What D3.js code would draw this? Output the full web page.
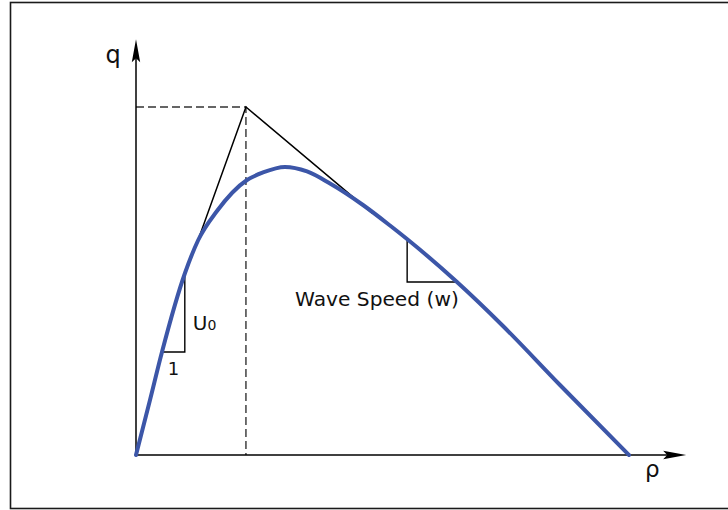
<!DOCTYPE html>
<html>
<head>
<meta charset="utf-8">
<script src="https://cdn.jsdelivr.net/npm/d3@7"></script>
<style>
  html, body { margin: 0; padding: 0; background: #fff; }
  svg { display: block; }
  text { font-family: "DejaVu Sans", Verdana, sans-serif; fill: #111; }
</style>
</head>
<body>
<svg id="chart" width="728" height="510"></svg>
<script>
// Flow–density curve: density rho (jam density = 100) vs flow q (capacity of triangle = 100)
const rhoValues = [0, 2.84, 5.27, 9.94, 12.58, 16.43, 22.52, 25.76, 30.22, 34.69, 39.35, 46.04, 51.52, 54.97, 65.11, 74.44, 86.0, 100];
const qValues   = [0, 15.8, 29.6, 52.3, 61.64, 70.11, 79.02, 81.18, 82.76, 81.47, 78.02, 71.84, 65.95, 62.07, 49.71, 37.07, 20.11, 0];

// Triangular envelope: free-flow branch, peak, congested branch
const triangleRho = [12.6, 22.3, 47.9];
const triangleQ   = [61.8, 100, 69.5];

// Critical density / capacity guide
const criticalRho = 22.3;
const capacityQ = 100;

// Slope markers
const freeFlowMarker = { rho: [5.3, 9.9, 9.9], q: [29.6, 29.6, 51.9] };
const waveMarker     = { rho: [55.0, 55.0, 64.9], q: [61.8, 49.7, 49.7] };

// Axis extents
const rhoAxisMax = 111.6;
const qAxisMax = 119.5;

const svg = d3.select("#chart");

const x = d3.scaleLinear().domain([0, 100]).range([136, 629]);
const y = d3.scaleLinear().domain([0, 100]).range([455, 107]);

// Frame
svg.append("rect")
  .attr("x", 10.5).attr("y", 2.5)
  .attr("width", 730).attr("height", 506)
  .attr("fill", "none").attr("stroke", "#1a1a1a").attr("stroke-width", 1.6);

// Dashed guide lines to the triangle peak
svg.append("path")
  .attr("d", d3.line()([[x(0), y(capacityQ)], [x(criticalRho), y(capacityQ)], [x(criticalRho), y(0)]]))
  .attr("fill", "none").attr("stroke", "#333").attr("stroke-width", 1.4)
  .attr("stroke-dasharray", "8,4");

// Axes with arrowheads
const x0 = x(0), y0 = y(0);
const xEnd = x(rhoAxisMax), yEnd = y(qAxisMax);
svg.append("line").attr("x1", x0).attr("y1", y0).attr("x2", xEnd - 10).attr("y2", y0)
  .attr("stroke", "#000").attr("stroke-width", 1.5);
svg.append("line").attr("x1", x0).attr("y1", y0).attr("x2", x0).attr("y2", yEnd + 10)
  .attr("stroke", "#000").attr("stroke-width", 1.5);
svg.append("path")
  .attr("d", `M${xEnd},${y0} L${xEnd - 23},${y0 - 4.2} L${xEnd - 19},${y0} L${xEnd - 23},${y0 + 4.2} Z`)
  .attr("fill", "#000");
svg.append("path")
  .attr("d", `M${x0},${yEnd} L${x0 - 4.2},${yEnd + 23} L${x0},${yEnd + 19} L${x0 + 4.2},${yEnd + 23} Z`)
  .attr("fill", "#000");

svg.append("text").attr("x", x0 - 23).attr("y", yEnd + 24)
  .attr("text-anchor", "middle").attr("font-size", 24).text("q");
svg.append("text").attr("x", xEnd - 34).attr("y", y0 + 22)
  .attr("text-anchor", "middle").attr("font-size", 23).text("ρ");

// Triangle envelope
svg.append("path")
  .attr("d", d3.line().x(d => x(d[0])).y(d => y(d[1]))(triangleRho.map((r, i) => [r, triangleQ[i]])))
  .attr("fill", "none").attr("stroke", "#000").attr("stroke-width", 1.5);

// Slope markers
const markerLine = d3.line().x(d => x(d[0])).y(d => y(d[1]));
[freeFlowMarker, waveMarker].forEach(m => {
  svg.append("path")
    .attr("d", markerLine(m.rho.map((r, i) => [r, m.q[i]])))
    .attr("fill", "none").attr("stroke", "#000").attr("stroke-width", 1.4);
});

// Fundamental diagram curve
svg.append("path")
  .attr("d", d3.line().x(d => x(d[0])).y(d => y(d[1])).curve(d3.curveMonotoneX)(
    rhoValues.map((r, i) => [r, qValues[i]])))
  .attr("fill", "none").attr("stroke", "#3c56a8").attr("stroke-width", 4)
  .attr("stroke-linecap", "round").attr("stroke-linejoin", "round");

// Labels
const u0 = svg.append("text").attr("x", x(9.9) + 8).attr("y", y(35.9)).attr("font-size", 20);
u0.append("tspan").text("U");
u0.append("tspan").attr("font-size", 14).text("0");

svg.append("text").attr("x", x(7.6)).attr("y", y(29.6) + 23)
  .attr("text-anchor", "middle").attr("font-size", 18).text("1");

svg.append("text").attr("x", 295).attr("y", y(42.9))
  .attr("font-size", 20.2).text("Wave Speed (w)");
</script>
</body>
</html>
